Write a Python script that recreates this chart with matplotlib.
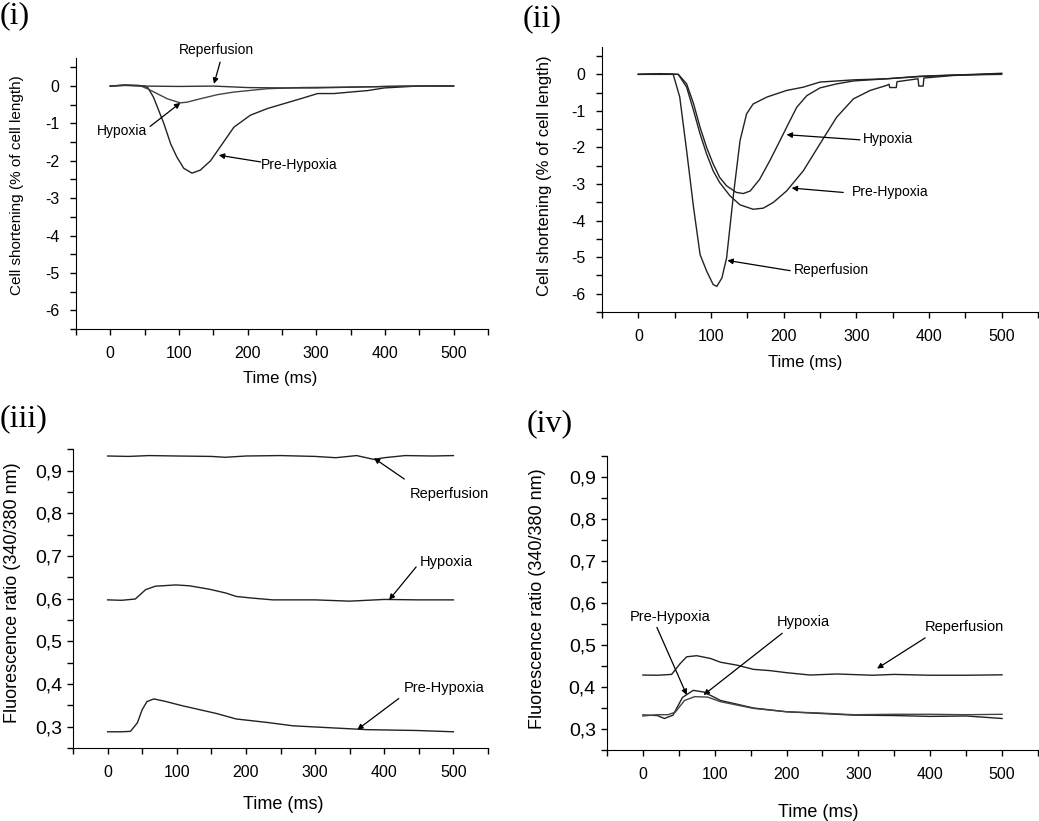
import matplotlib
matplotlib.use("Agg")
import matplotlib.pyplot as plt
from matplotlib.ticker import MultipleLocator

plt.rcParams['font.family'] = ['Liberation Sans', 'DejaVu Sans']
plt.rcParams['axes.unicode_minus'] = False

# ---- (i) cell shortening, curves ----
t1_pre = [0, 20, 40, 50, 55, 63, 78, 88, 97, 107, 119, 131, 146, 160, 180, 204, 229, 253, 277, 302, 326, 350, 375, 399, 447, 500]
y1_pre = [0, 0.03, 0.02, 0, -0.05, -0.3, -1.0, -1.55, -1.9, -2.2, -2.33, -2.25, -2.0, -1.63, -1.1, -0.78, -0.6, -0.47, -0.34, -0.2, -0.2, -0.16, -0.12, -0.05, 0, 0.01]
t1_hyp = [0, 20, 45, 55, 68, 83, 102, 112, 131, 156, 180, 229, 277, 330, 380, 430, 500]
y1_hyp = [0, 0.02, 0, -0.08, -0.2, -0.34, -0.45, -0.43, -0.34, -0.23, -0.16, -0.07, -0.04, -0.03, -0.02, 0, 0]
t1_rep = [0, 25, 50, 100, 150, 200, 250, 300, 350, 400, 450, 500]
y1_rep = [0, 0.02, 0, -0.01, 0, -0.04, -0.05, -0.05, -0.03, -0.01, 0, 0]

# ---- (ii) ----
t2_rep = [0, 20, 48, 57, 66.5, 76, 85, 94, 103, 108, 115, 121.5, 131, 140, 149, 158, 177, 204, 227, 250, 296, 342, 388, 430, 500]
y2_rep = [0, 0, 0, -0.62, -2.09, -3.64, -4.93, -5.38, -5.75, -5.8, -5.57, -5.02, -3.28, -1.81, -1.08, -0.81, -0.62, -0.44, -0.35, -0.21, -0.15, -0.12, -0.05, -0.02, 0]
t2_hyp = [0, 30, 55, 66.5, 76, 85, 94, 103, 112, 121.5, 135, 144.5, 154, 167, 181, 195, 204, 218, 232, 250, 273, 296, 342, 388, 434, 500]
y2_hyp = [0, 0.02, 0, -0.26, -0.8, -1.45, -2.0, -2.45, -2.82, -3.05, -3.23, -3.26, -3.19, -2.87, -2.36, -1.81, -1.45, -0.9, -0.58, -0.37, -0.26, -0.18, -0.12, -0.06, -0.02, 0.03]
t2_pre = [0, 30, 55, 66.5, 76, 85, 94, 103, 112, 126, 140, 158, 172, 186, 204, 227, 250, 273, 296, 319, 342, 345, 346, 355, 356, 385, 386, 392, 393, 434, 500]
y2_pre = [0, 0.01, 0, -0.35, -0.99, -1.63, -2.18, -2.64, -2.96, -3.32, -3.57, -3.69, -3.66, -3.5, -3.19, -2.64, -1.9, -1.17, -0.67, -0.44, -0.3, -0.27, -0.36, -0.36, -0.2, -0.12, -0.32, -0.32, -0.1, -0.03, 0.02]

# ---- (iii) fluorescence ratio ----
t3_rep = [0, 30, 60, 100, 150, 170, 200, 250, 300, 330, 360, 385, 400, 430, 470, 500]
y3_rep = [0.934, 0.933, 0.935, 0.934, 0.933, 0.931, 0.934, 0.935, 0.933, 0.930, 0.935, 0.926, 0.930, 0.935, 0.934, 0.935]
t3_hyp = [0, 20, 40, 55, 69, 98.5, 118, 147, 171, 186, 210, 239, 300, 350, 400, 450, 500]
y3_hyp = [0.597, 0.596, 0.599, 0.621, 0.629, 0.632, 0.630, 0.622, 0.613, 0.605, 0.601, 0.597, 0.597, 0.594, 0.598, 0.597, 0.597]
t3_pre = [0, 20, 33, 43, 50, 57, 67, 84, 108, 132.5, 157, 186, 230, 268, 327, 375, 448, 500]
y3_pre = [0.288, 0.288, 0.289, 0.309, 0.340, 0.359, 0.365, 0.359, 0.349, 0.340, 0.331, 0.318, 0.310, 0.302, 0.297, 0.293, 0.291, 0.288]

# ---- (iv) ----
t4_rep = [0, 20, 40, 52, 61, 75, 94, 108, 131, 154, 177, 200.5, 233, 270, 320, 350, 400, 450, 500]
y4_rep = [0.4285, 0.428, 0.430, 0.456, 0.472, 0.4745, 0.468, 0.459, 0.452, 0.442, 0.439, 0.434, 0.4285, 0.431, 0.428, 0.430, 0.428, 0.428, 0.429]
t4_pre = [0, 20, 30, 42, 55, 70, 85, 108, 154, 200, 247, 293, 350, 400, 450, 500]
y4_pre = [0.3335, 0.332, 0.325, 0.333, 0.375, 0.392, 0.388, 0.368, 0.350, 0.341, 0.337, 0.333, 0.332, 0.330, 0.331, 0.325]
t4_hyp = [0, 20, 35, 45, 58, 72, 90, 108, 154, 200, 247, 293, 350, 400, 450, 500]
y4_hyp = [0.331, 0.334, 0.334, 0.340, 0.368, 0.377, 0.376, 0.365, 0.349, 0.341, 0.338, 0.334, 0.335, 0.335, 0.334, 0.335]

fig = plt.figure(figsize=(10.39, 8.21), dpi=100)
ax1 = fig.add_axes([0.0731, 0.5993, 0.3965, 0.330])
ax2 = fig.add_axes([0.5794, 0.620, 0.4196, 0.3228])
ax3 = fig.add_axes([0.0703, 0.0889, 0.3994, 0.364])
ax4 = fig.add_axes([0.5842, 0.0865, 0.4148, 0.358])

lw = 1.0
ax1.plot(t1_pre, y1_pre, color='#222222', lw=lw)
ax1.plot(t1_hyp, y1_hyp, color='#444444', lw=lw)
ax1.plot(t1_rep, y1_rep, color='#333333', lw=lw)
ax2.plot(t2_rep, y2_rep, color='#222222', lw=lw)
ax2.plot(t2_hyp, y2_hyp, color='#222222', lw=lw)
ax2.plot(t2_pre, y2_pre, color='#222222', lw=lw)
ax3.plot(t3_rep, y3_rep, color='#222222', lw=lw)
ax3.plot(t3_hyp, y3_hyp, color='#222222', lw=lw)
ax3.plot(t3_pre, y3_pre, color='#222222', lw=lw)
ax4.plot(t4_rep, y4_rep, color='#222222', lw=lw)
ax4.plot(t4_pre, y4_pre, color='#222222', lw=lw)
ax4.plot(t4_hyp, y4_hyp, color='#444444', lw=lw)

for ax in (ax1, ax2, ax3, ax4):
    ax.spines['top'].set_visible(False)
    ax.spines['right'].set_visible(False)
    ax.set_xlim(-50, 550)
    ax.xaxis.set_minor_locator(MultipleLocator(50))
    ax.set_xticks([0, 100, 200, 300, 400, 500])
    ax.tick_params(which='both', direction='out', length=4, width=1, labelsize=11.5)
    ax.tick_params(axis='x', pad=8)

# (axes, label x/y in axes coords, font size)
xlab = [(ax1, 0.495, -0.181, 12), (ax2, 0.466, -0.189, 12),
        (ax3, 0.506, -0.19, 13), (ax4, 0.49, -0.211, 13)]
for ax, x, y, s in xlab:
    ax.set_xlabel("Time (ms)", fontsize=s, va='center')
    ax.xaxis.set_label_coords(x, y)

for ax in (ax1, ax2):
    ax.set_ylim(-6.5, 0.75)
    ax.set_yticks([0, -1, -2, -3, -4, -5, -6])
    ax.yaxis.set_minor_locator(MultipleLocator(0.5))
    ax.tick_params(axis='y', pad=8)

for ax in (ax3, ax4):
    ax.set_ylim(0.25, 0.95)
    yt = [0.3, 0.4, 0.5, 0.6, 0.7, 0.8, 0.9]
    ax.set_yticks(yt)
    ax.set_yticklabels([f"{v:.1f}".replace('.', ',') for v in yt])
    ax.yaxis.set_minor_locator(MultipleLocator(0.05))
    ax.tick_params(axis='y', labelsize=14, pad=4)

ylab = [(ax1, "Cell shortening (% of cell length)", -0.143, 0.53, 11),
        (ax2, "Cell shortening (% of cell length)", -0.131, 0.513, 12),
        (ax3, "Fluorescence ratio (340/380 nm)", -0.147, 0.52, 13),
        (ax4, "Fluorescence ratio (340/380 nm)", -0.162, 0.514, 13)]
for ax, lab, x, y, s in ylab:
    ax.set_ylabel(lab, fontsize=s, va='center')
    ax.yaxis.set_label_coords(x, y)

arrow = dict(arrowstyle='-|>', color='black', lw=0.9, mutation_scale=8, shrinkA=0, shrinkB=0)

def note(ax, label, tip, tail, txt, fs):
    ax.annotate('', xy=tip, xytext=tail, arrowprops=arrow, annotation_clip=False)
    ax.text(txt[0], txt[1], label, fontsize=fs, ha='center', va='center', clip_on=False)

note(ax1, "Reperfusion", (151, 0.06), (160, 0.64), (155, 0.97), 10)
note(ax1, "Hypoxia", (102, -0.45), (58, -1.08), (17, -1.21), 10)
note(ax1, "Pre-Hypoxia", (158, -1.85), (219, -2.03), (275, -2.12), 10)

note(ax2, "Hypoxia", (204, -1.65), (305, -1.79), (344, -1.77), 10)
note(ax2, "Pre-Hypoxia", (211, -3.11), (282, -3.23), (347, -3.23), 10)
note(ax2, "Reperfusion", (122.5, -5.09), (209, -5.37), (266, -5.34), 10)

note(ax3, "Reperfusion", (385, 0.929), (429, 0.880), (494, 0.845), 10.5)
note(ax3, "Hypoxia", (407, 0.597), (446, 0.674), (489, 0.685), 10.5)
note(ax3, "Pre-Hypoxia", (361, 0.293), (421, 0.366), (487, 0.391), 10.5)

note(ax4, "Pre-Hypoxia", (61, 0.381), (19.5, 0.542), (38, 0.567), 10.5)
note(ax4, "Hypoxia", (84.5, 0.381), (194, 0.528), (224, 0.555), 10.5)
note(ax4, "Reperfusion", (326, 0.444), (393, 0.517), (447, 0.543), 10.5)

pl = dict(fontsize=23, family=['Liberation Serif', 'DejaVu Serif'], va='top', ha='left')
fig.text(0.0, 0.998, "(i)", **pl)
fig.text(0.503, 0.995, "(ii)", **pl)
fig.text(0.0, 0.508, "(iii)", **pl)
fig.text(0.507, 0.502, "(iv)", **pl)

fig.savefig("out.png", dpi=100)
